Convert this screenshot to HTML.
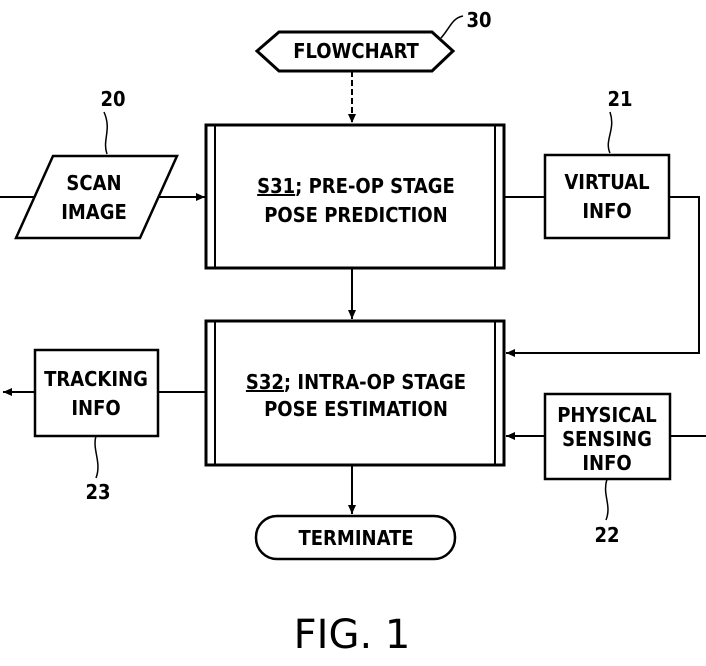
<!DOCTYPE html>
<html><head><style>
html,body{margin:0;padding:0;background:#fff;}
svg{display:block;}
text{font-family:"DejaVu Sans Condensed","DejaVu Sans","Liberation Sans",sans-serif;font-weight:bold;fill:#000;}
</style></head><body>
<svg width="706" height="666" viewBox="0 0 706 666" xmlns="http://www.w3.org/2000/svg">
<defs>
<marker id="a" markerWidth="10" markerHeight="10" refX="9" refY="5" orient="auto" markerUnits="userSpaceOnUse">
<path d="M0,1 L9,5 L0,9 z" fill="#000"/></marker>
</defs>
<g stroke="#000" fill="none" stroke-width="2">
<polygon points="257,51 279,32 432,32 453,51 432,71 279,71" stroke-width="3"/>
<path d="M441,38 C450,28 452,18 463,16" stroke-width="1.5"/>
<line x1="352" y1="71" x2="352" y2="123" stroke-dasharray="6,3" marker-end="url(#a)"/>
<rect x="206" y="125" width="298" height="143" stroke-width="3"/>
<line x1="215" y1="125" x2="215" y2="268"/>
<line x1="495" y1="125" x2="495" y2="268"/>
<rect x="206" y="321" width="298" height="144" stroke-width="3"/>
<line x1="215" y1="321" x2="215" y2="465"/>
<line x1="495" y1="321" x2="495" y2="465"/>
<line x1="352" y1="268" x2="352" y2="319" marker-end="url(#a)"/>
<line x1="352" y1="465" x2="352" y2="514" marker-end="url(#a)"/>
<polygon points="53,156 177,156 140,238 16,238" stroke-width="2.5"/>
<line x1="0" y1="197" x2="35" y2="197"/>
<line x1="159" y1="197" x2="205" y2="197" marker-end="url(#a)"/>
<path d="M107,154 C102,140 112,130 104,112" stroke-width="1.5"/>
<rect x="545" y="155" width="124" height="83" stroke-width="2.5"/>
<line x1="504" y1="197" x2="545" y2="197"/>
<polyline points="669,197 699,197 699,353 506,353" marker-end="url(#a)"/>
<path d="M610,153 C604,140 616,130 610,112" stroke-width="1.5"/>
<rect x="35" y="350" width="123" height="86" stroke-width="2.5"/>
<line x1="158" y1="392" x2="206" y2="392"/>
<line x1="35" y1="392" x2="3" y2="392" marker-end="url(#a)"/>
<path d="M96,436 C92,450 102,462 96,478" stroke-width="1.5"/>
<rect x="545" y="394" width="125" height="85" stroke-width="2.5"/>
<line x1="545" y1="436" x2="506" y2="436" marker-end="url(#a)"/>
<line x1="670" y1="436" x2="706" y2="436"/>
<path d="M607,479 C602,495 612,505 606,520" stroke-width="1.5"/>
<rect x="256" y="516" width="199" height="43" rx="21" stroke-width="2.5"/>
</g>
<g font-size="20" text-anchor="middle">
<text x="356" y="58">FLOWCHART</text>
<text x="356" y="193"><tspan text-decoration="underline">S31</tspan>; PRE-OP STAGE</text>
<text x="356" y="222">POSE PREDICTION</text>
<text x="356" y="389"><tspan text-decoration="underline">S32</tspan>; INTRA-OP STAGE</text>
<text x="356" y="416">POSE ESTIMATION</text>
<text x="94" y="190">SCAN</text>
<text x="94" y="219">IMAGE</text>
<text x="607" y="189">VIRTUAL</text>
<text x="607" y="218">INFO</text>
<text x="96" y="386">TRACKING</text>
<text x="96" y="415">INFO</text>
<text x="607" y="422">PHYSICAL</text>
<text x="607" y="446">SENSING</text>
<text x="607" y="470">INFO</text>
<text x="356" y="545">TERMINATE</text>
<text x="479" y="27">30</text>
<text x="113" y="106">20</text>
<text x="620" y="106">21</text>
<text x="98" y="499">23</text>
<text x="607" y="542">22</text>
</g>
<text x="352" y="648" font-size="40" text-anchor="middle" style="font-weight:normal;font-family:'DejaVu Sans',sans-serif">FIG. 1</text>
</svg>
</body></html>
